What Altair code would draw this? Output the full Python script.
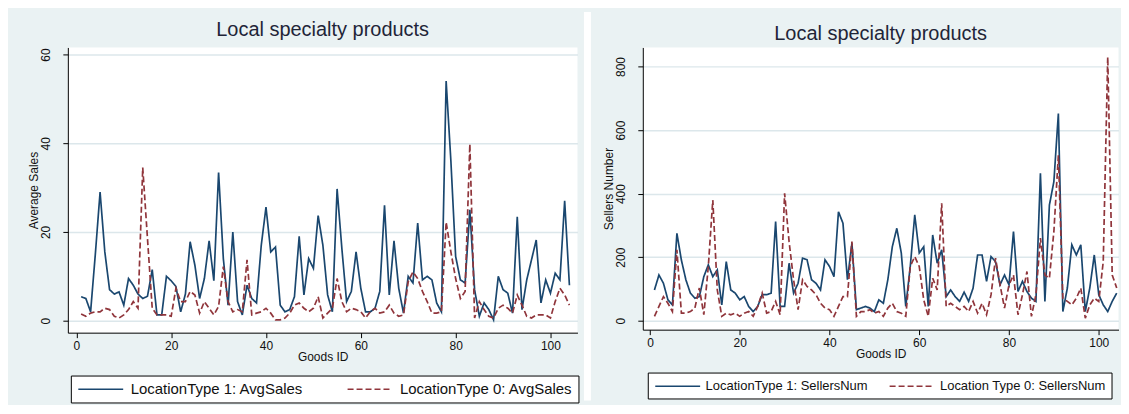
import altair as alt
import pandas as pd

goods_id = list(range(1, 105))

avg_sales_loc1 = [
    5.4, 5, 2, 15, 29, 15.5, 7, 6, 6.5, 3.5,
    9.5, 8, 6, 5, 5.5, 11.5, 1.3, 1.3, 10, 9,
    7.7, 2, 6, 17.8, 12.5, 5, 9.5, 18, 9, 33.4,
    14, 3.5, 20, 4.3, 1.3, 8, 5, 4, 17, 25.6,
    15.5, 16.6, 3.5, 2, 2.5, 5.4, 19, 5.8, 14, 11.8,
    23.7, 17, 5.8, 2, 29.7, 16.3, 4.3, 6.6, 15.5, 7.3,
    2, 2, 2.8, 6.6, 26, 5.8, 18, 7.3, 1.7, 10,
    8.5, 22, 9.2, 10, 9.2, 4, 2, 54, 36, 14.5,
    9.2, 8.5, 25, 7, 1, 4, 2.5, 0.2, 10, 7,
    6.2, 1.7, 23.4, 2.5, 9.2, 13.7, 18.2, 4, 9.2, 6.2,
    10.7, 9.2, 27, 8,
]
avg_sales_loc0 = [
    1.5, 1, 1.7, 2, 2, 2.8, 2.5, 1, 0.6, 1.3,
    2.5, 4.3, 2.8, 34.5, 18.5, 2.8, 1.3, 1.3, 1.3, 1,
    7.3, 4.3, 4.3, 6.6, 5.8, 1.7, 4.3, 2.8, 1.3, 3.2,
    12.2, 4.3, 2, 2.5, 2, 13.7, 1.3, 1.7, 2, 2.8,
    1.7, 0.2, 0.2, 0.6, 1.7, 3.5, 4, 2.8, 2, 2.8,
    5.4, 0.6, 1.7, 2.8, 9.5, 4.3, 2, 2.8, 2.5, 2,
    0.6, 2, 2.8, 1.7, 2, 3.5, 1.7, 1, 1.3, 8.8,
    11, 9.5, 6.6, 4.3, 1.7, 1.7, 2, 22.2, 15.5, 9.5,
    5, 6.6, 39.8, 0.6, 4.3, 2.5, 1, 0.6, 2.8, 3.5,
    2.8, 1.7, 5.8, 3.5, 1, 0.6, 1.3, 1.3, 1.3, 0.6,
    4.3, 7.3, 5.8, 3.5,
]
sellers_loc1 = [
    97, 144, 118, 66, 50, 275, 191, 129, 87, 71,
    76, 139, 176, 139, 160, 50, 186, 97, 87, 66,
    76, 45, 29, 45, 82, 82, 87, 312, 45, 45,
    181, 87, 118, 197, 192, 129, 118, 97, 192, 171,
    139, 343, 307, 129, 244, 35, 40, 45, 40, 29,
    66, 55, 129, 233, 291, 213, 45, 171, 333, 213,
    233, 45, 270, 181, 223, 76, 97, 76, 61, 90,
    61, 103, 207, 207, 124, 202, 186, 113, 144, 113,
    281, 92, 124, 92, 71, 61, 464, 61, 364, 438,
    652, 29, 103, 239, 207, 239, 29, 103, 207, 82,
    50, 29, 61, 87,
]
sellers_loc0 = [
    14, 45, 76, 55, 29, 223, 24, 24, 29, 40,
    103, 19, 171, 380, 97, 14, 24, 19, 24, 14,
    24, 29, 14, 45, 87, 24, 29, 61, 19, 401,
    249, 129, 35, 129, 108, 97, 82, 55, 40, 35,
    14, 45, 76, 76, 249, 14, 29, 29, 35, 24,
    29, 14, 40, 55, 29, 24, 14, 171, 202, 171,
    66, 14, 134, 97, 370, 45, 55, 45, 35, 45,
    29, 61, 24, 55, 19, 82, 197, 113, 40, 113,
    144, 19, 82, 155, 14, 82, 260, 144, 134, 281,
    521, 71, 61, 50, 71, 103, 8, 50, 71, 61,
    186, 830, 144, 103,
]

x_ticks = [0, 20, 40, 60, 80, 100]
sales_ticks = [0, 20, 40, 60]
sellers_ticks = [0, 200, 400, 600, 800]

NAVY = "#1A476F"
MAROON = "#90353B"
BG = "#EAF2F3"
GRID = "#DCE7EB"
FONT = "Liberation Sans"
TXT = "#111111"
LEG_SYMBOL = "M-0.8,0H5.2"


def panel(s1, s0, name1, name0, ytitle, yticks, ydomain, xdomain, w, h, legx,
          legfont, laboff, colpad, strip_x, strip_opacity):
    df = pd.DataFrame({
        "id": goods_id + goods_id,
        "value": s1 + s0,
        "series": [name1] * len(s1) + [name0] * len(s0),
    })
    leg = alt.Legend(
        title=None, orient="none", legendX=legx, legendY=h + 43,
        direction="horizontal", strokeColor="black", fillColor="white",
        padding=5, symbolType=LEG_SYMBOL, symbolSize=225, symbolStrokeWidth=1.5,
        labelFont=FONT, labelFontSize=legfont, labelColor=TXT, columnPadding=colpad,
        labelOffset=laboff, labelLimit=500,
    )
    lines = alt.Chart(df).mark_line(strokeWidth=1.7).encode(
        x=alt.X("id:Q", scale=alt.Scale(domain=xdomain, nice=False, zero=False),
                axis=alt.Axis(values=x_ticks, grid=False, title="Goods ID",
                              titlePadding=0, labelPadding=3, format="d")),
        y=alt.Y("value:Q", scale=alt.Scale(domain=ydomain, nice=False, zero=False),
                axis=alt.Axis(values=yticks, grid=True, gridColor=GRID, gridWidth=1.5,
                              labelAngle=270, labelAlign="center", labelBaseline="bottom",
                              labelPadding=10, title=ytitle, titlePadding=-1, format="d")),
        color=alt.Color("series:N", scale=alt.Scale(domain=[name1, name0], range=[NAVY, MAROON]),
                        legend=leg),
        strokeDash=alt.StrokeDash("series:N",
                                  scale=alt.Scale(domain=[name1, name0], range=[[1, 0], [6, 3]]),
                                  legend=leg),
        order="id:Q",
    )
    # white gap separating the two figure panels (decoration, not data)
    strip = alt.Chart(pd.DataFrame({"k": [0]})).mark_rule(
        color="white", strokeWidth=7, opacity=strip_opacity
    ).encode(
        x=alt.value(strip_x), y=alt.value(-35.5), y2=alt.value(h + 68),
    )
    return alt.layer(lines, strip).properties(
        width=w, height=h,
        title=alt.TitleParams("Local specialty products", fontSize=20, font=FONT,
                              fontWeight="normal", color="#1F2538", offset=-32,
                              anchor="middle"),
    )


left = panel(avg_sales_loc1, avg_sales_loc0,
             "LocationType 1: AvgSales", "LocationType 0: AvgSales",
             "Average Sales", sales_ticks, [-2.7, 61.6], [-1.8, 105.7], 511, 286, 3,
             15, 38, 40, 521, 1)
right = panel(sellers_loc1, sellers_loc0,
              "LocationType 1: SellersNum", "Location Type 0: SellersNum",
              "Sellers Number", sellers_ticks, [-28, 860], [-1.6, 104.4], 477, 283, 5,
              13, 36, 18, 0, 0)

chart = alt.hconcat(left, right, spacing=11.5).resolve_scale(
    color="independent", strokeDash="independent"
).properties(
    padding={"left": 20, "top": 0, "right": 0, "bottom": 0}
).configure(
    background=BG,
).configure_view(
    fill="white", stroke=None,
).configure_axis(
    domainColor="#000000", domainWidth=1, tickColor="#000000", tickSize=5,
    labelFont=FONT, labelFontSize=12, labelColor=TXT,
    titleFont=FONT, titleFontSize=12, titleFontWeight="normal", titleColor=TXT,
)

chart.save("out.html", embed_options={"renderer": "svg", "actions": False})
